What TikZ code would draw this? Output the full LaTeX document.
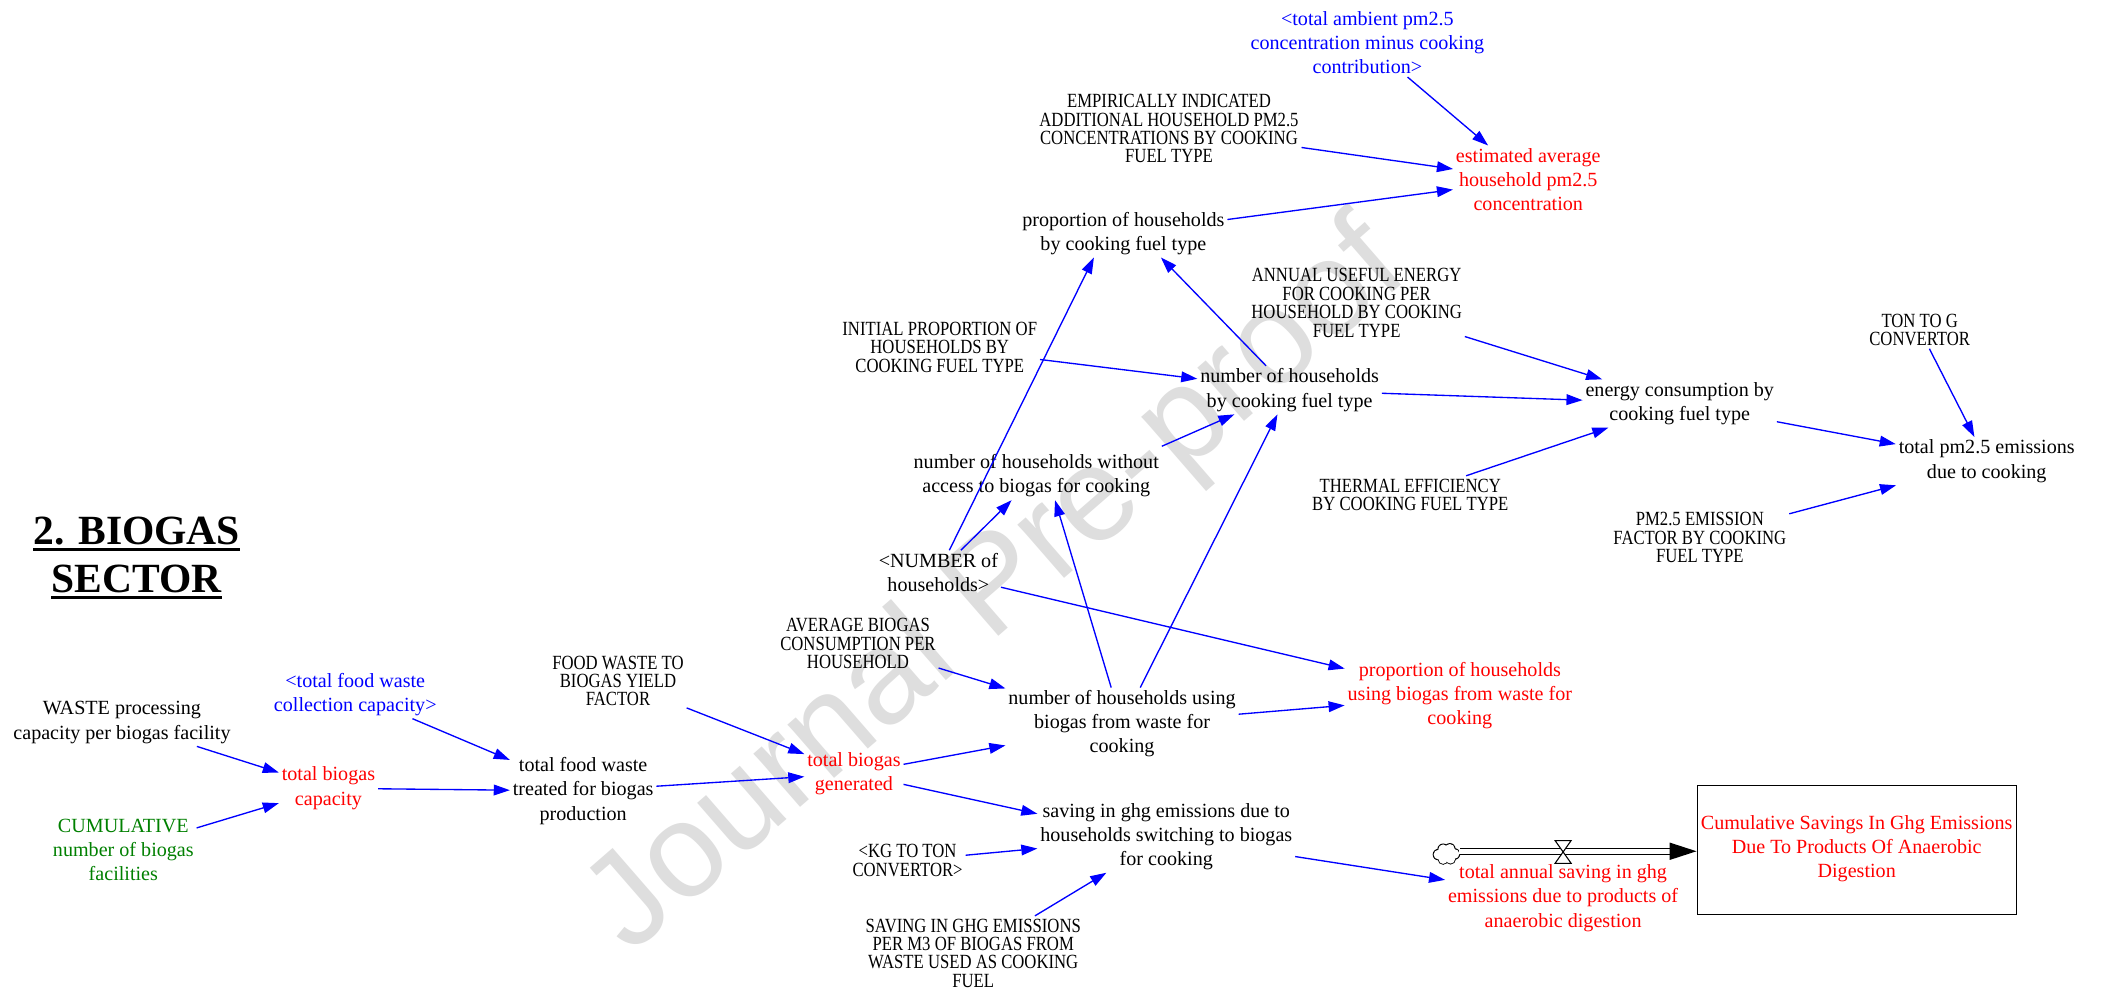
\documentclass[tikz,border=0pt]{standalone}
\usepackage{fontspec}
\setmainfont{Liberation Serif}
\newfontfamily\capsfont[FakeStretch=0.83]{Liberation Serif}
\newfontfamily\wmfont{Liberation Sans}
\usetikzlibrary{arrows.meta,calc}
\definecolor{vblue}{RGB}{0,0,255}
\definecolor{vred}{RGB}{255,0,0}
\definecolor{vgreen}{RGB}{0,128,0}
\definecolor{wmgray}{RGB}{222,222,222}
\tikzset{
  v/.style={font=\fontsize{15}{18}\selectfont, align=center, inner sep=2pt},
  vc/.style={font=\capsfont\fontsize{15}{13.7}\selectfont, align=center, inner sep=2pt},
  arr/.style={draw=vblue, line width=1pt, -{Triangle[length=12pt,width=8pt]}},
  ttl/.style={font=\fontsize{31}{36}\bfseries\selectfont, inner sep=0pt},
}
\begin{document}
\begin{tikzpicture}[x=1pt,y=-1pt]
\useasboundingbox[fill=white] (0,0) rectangle (1568,741);
% watermark
\node[text=wmgray, font=\wmfont\fontsize{100}{100}\selectfont, rotate=41] (wm) at (745,440) {Journal Pre-proof};

% title
\node[ttl, anchor=base] (title1) at (102,406) {2. BIOGAS};
\node[ttl, anchor=base] (title2) at (102,442) {SECTOR};
\draw[line width=2.3pt] ([yshift=-4pt]title1.base west) -- ([yshift=-4pt]title1.base east);
\draw[line width=2.3pt] ([yshift=-4pt]title2.base west) -- ([yshift=-4pt]title2.base east);

% variables
\node[v] (waste) at (91,539) {WASTE processing\\capacity per biogas facility};
\node[v, text=vblue] (tfwc) at (265,518) {<total food waste\\collection capacity>};
\node[v, text=vred] (tbc) at (245,588) {total biogas\\capacity};
\node[v, text=vgreen] (cum) at (92,634) {CUMULATIVE\\number of biogas\\facilities};
\node[vc] (fwby) at (461,508) {FOOD WASTE TO\\BIOGAS YIELD\\FACTOR};
\node[v] (tfwt) at (435,590) {total food waste\\treated for biogas\\production};
\node[v, text=vred] (tbg) at (637,577) {total biogas\\generated};
\node[vc] (abc) at (640,480) {AVERAGE BIOGAS\\CONSUMPTION PER\\HOUSEHOLD};
\node[v] (nhub) at (837,540) {number of households using\\biogas from waste for\\cooking};
\node[v] (num) at (700,427) {<NUMBER of\\households>};
\node[v] (nhwo) at (773,355) {number of households without\\access to biogas for cooking};
\node[vc] (ipoh) at (701,259) {INITIAL PROPORTION OF\\HOUSEHOLDS BY\\COOKING FUEL TYPE};
\node[v] (nhcf) at (962,291) {number of households\\by cooking fuel type};
\node[v] (phcf) at (838,174) {proportion of households\\by cooking fuel type};
\node[vc] (eih) at (872,96) {EMPIRICALLY INDICATED\\ADDITIONAL HOUSEHOLD PM2.5\\CONCENTRATIONS BY COOKING\\FUEL TYPE};
\node[v, text=vblue] (tap) at (1020,32) {<total ambient pm2.5\\concentration minus cooking\\contribution>};
\node[v, text=vred] (eahp) at (1140,134) {estimated average\\household pm2.5\\concentration};
\node[vc] (aue) at (1012,226) {ANNUAL USEFUL ENERGY\\FOR COOKING PER\\HOUSEHOLD BY COOKING\\FUEL TYPE};
\node[v] (ecf) at (1253,301) {energy consumption by\\cooking fuel type};
\node[vc] (te) at (1052,369) {THERMAL EFFICIENCY\\BY COOKING FUEL TYPE};
\node[vc] (tong) at (1432,246) {TON TO G\\CONVERTOR};
\node[v] (tpm) at (1482,344) {total pm2.5 emissions\\due to cooking};
\node[vc] (pmef) at (1268,401) {PM2.5 EMISSION\\FACTOR BY COOKING\\FUEL TYPE};
\node[v, text=vred] (phub) at (1089,519) {proportion of households\\using biogas from waste for\\cooking};
\node[v] (sgh) at (870,624) {saving in ghg emissions due to\\households switching to biogas\\for cooking};
\node[vc] (kgton) at (677,642) {<KG TO TON\\CONVERTOR>};
\node[vc] (sgem) at (726,711) {SAVING IN GHG EMISSIONS\\PER M3 OF BIOGAS FROM\\WASTE USED AS COOKING\\FUEL};
\node[v, text=vred] (tas) at (1166,670) {total annual saving in ghg\\emissions due to products of\\anaerobic digestion};

% stock
\node[draw, line width=1pt, minimum width=238pt, minimum height=96pt, inner sep=0pt] (stock) at (1385,634) {};
\node[v, text=vred] (stocklbl) at (1385,633) {Cumulative Savings In Ghg Emissions\\Due To Products Of Anaerobic\\Digestion};

% flow: cloud (outline of a union of puffs)
\node[minimum width=20pt, minimum height=14pt, inner sep=0pt] (cloud) at (1079,637) {};
\begin{scope}[shift={(cloud.center)}]
  \foreach \px/\py/\pr in {-6/0.5/3.6, -2.5/-3.5/3.6, 2.5/-3.8/3.6, 6/0/3.6, 3/3.8/3.4, -2.5/4/3.4, 0/0/4} {
    \fill[black] (\px,\py) circle[radius=\pr+0.7];
  }
  \foreach \px/\py/\pr in {-6/0.5/3.6, -2.5/-3.5/3.6, 2.5/-3.8/3.6, 6/0/3.6, 3/3.8/3.4, -2.5/4/3.4, 0/0/4} {
    \fill[white] (\px,\py) circle[radius=\pr];
  }
\end{scope}
\coordinate (tip) at ($(stock.west)+(0,1)$);
\coordinate (pipeend) at ($(tip)+(-20,0)$);
\coordinate (pipestart) at ($(cloud.east)+(0,-2)$);
\draw[line width=5.6pt] (pipestart) -- (pipeend);
\draw[line width=3.4pt, white] ([xshift=-1pt]pipestart) -- ([xshift=1pt]pipeend);
\fill ($(pipeend)+(0,-6.5)$) -- (tip) -- ($(pipeend)+(0,6.5)$) -- cycle;
\coordinate (valve) at (1166,635.5);
\draw[fill=white, line width=0.8pt] ($(valve)+(-6,-8.5)$) -- ($(valve)+(6,-8.5)$) -- (valve) -- cycle;
\draw[fill=white, line width=0.8pt] ($(valve)+(-6,8.5)$) -- ($(valve)+(6,8.5)$) -- (valve) -- cycle;

% connectors
\draw[arr] (waste) -- (tbc);
\draw[arr] (cum) -- (tbc);
\draw[arr] (tfwc) -- (tfwt);
\draw[arr] (tbc) -- (tfwt);
\draw[arr] (tfwt) -- (tbg);
\draw[arr] (fwby) -- (tbg);
\draw[arr] (tbg) -- (nhub);
\draw[arr] (tbg) -- (sgh.170);
\draw[arr] (abc) -- (nhub);
\draw[arr] (num) -- (nhwo);
\draw[arr] (num) -- ([xshift=-22pt]phcf.south);
\draw[arr] (nhub) -- ([xshift=14pt]nhwo.south);
\draw[arr] (nhub) -- (nhcf);
\draw[arr] ([yshift=4pt]nhwo.north east) -- (nhcf);
\draw[arr] (nhcf) -- ([xshift=28pt]phcf.south);
\draw[arr] (ipoh) -- (nhcf);
\draw[arr] (num) -- (phub);
\draw[arr] (nhub) -- (phub);
\draw[arr] (phcf) -- (eahp);
\draw[arr] (eih) -- (eahp);
\draw[arr] (tap) -- (eahp);
\draw[arr] (nhcf) -- (ecf);
\draw[arr] (aue) -- (ecf);
\draw[arr] (te) -- (ecf);
\draw[arr] (ecf) -- (tpm);
\draw[arr] (tong) -- (tpm);
\draw[arr] (pmef) -- (tpm);
\draw[arr] (sgh) -- (tas);
\draw[arr] (kgton) -- (sgh);
\draw[arr] (sgem) -- (sgh);
\end{tikzpicture}
\end{document}
